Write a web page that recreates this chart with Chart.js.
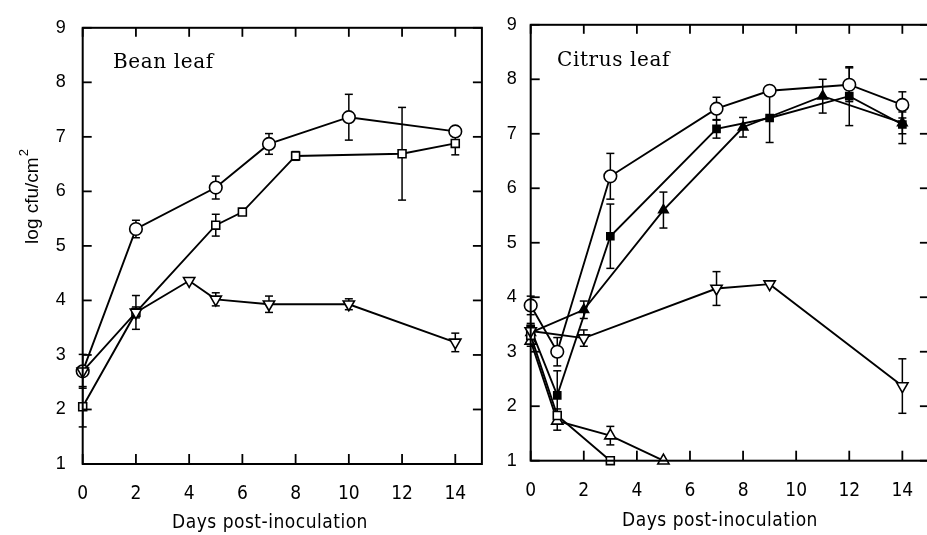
<!DOCTYPE html>
<html>
<head>
<meta charset="utf-8">
<script src="https://cdn.jsdelivr.net/npm/chart.js@4"></script>
<style>
  html, body { margin: 0; padding: 0; background: #fff; overflow: hidden; width: 927px; height: 535px; }
  .panel { position: absolute; top: 0; }
  #bean-wrap { left: 0; width: 490px; height: 535px; }
  #citrus-wrap { left: 487px; width: 450px; height: 535px; }
</style>
</head>
<body>
<div class="panel" id="bean-wrap"><canvas id="beanChart" width="490" height="535"></canvas></div>
<div class="panel" id="citrus-wrap"><canvas id="citrusChart" width="450" height="535"></canvas></div>
<script>
// ==========================================
// 1. 資料 (Data)
// ==========================================
const xTicks = [0, 2, 4, 6, 8, 10, 12, 14];
const yTicks = [1, 2, 3, 4, 5, 6, 7, 8, 9];

// Bean leaf
const beanCircleX = [0, 2, 5, 7, 10, 14];
const beanCircleY = [2.7, 5.31, 6.07, 6.87, 7.36, 7.1];
const beanCircleErr = [0.31, 0.16, 0.21, 0.19, 0.42, 0.05];

const beanSquareX = [0, 2, 5, 6, 8, 12, 14];
const beanSquareY = [2.05, 3.78, 5.38, 5.62, 6.65, 6.69, 6.88];
const beanSquareErr = [0.37, 0.31, 0.2, 0.04, 0.08, 0.85, 0.21];

const beanDownX = [0, 2, 4, 5, 7, 10, 14];
const beanDownY = [2.7, 3.78, 4.36, 4.02, 3.93, 3.93, 3.23];
const beanDownErr = [0, 0.1, 0, 0.12, 0.15, 0.1, 0.17];

// Citrus leaf
const citCircleX = [0, 1, 3, 7, 9, 12, 14];
const citCircleY = [3.85, 3.0, 6.22, 7.46, 7.79, 7.9, 7.53];
const citCircleErr = [0.17, 0.26, 0.42, 0.21, 0.07, 0.31, 0.24];

const citFillSqX = [0, 1, 3, 7, 9, 12, 14];
const citFillSqY = [3.42, 2.2, 5.12, 7.09, 7.29, 7.69, 7.17];
const citFillSqErr = [0.1, 0.45, 0.59, 0.17, 0.45, 0.54, 0.35];

const citFillTriX = [0, 2, 5, 8, 11, 14];
const citFillTriY = [3.35, 3.77, 5.6, 7.12, 7.69, 7.2];
const citFillTriErr = [0.1, 0.16, 0.33, 0.18, 0.31, 0.2];

const citOpenSqX = [0, 1, 3];
const citOpenSqY = [3.3, 1.83, 1.0];
const citOpenSqErr = [0.1, 0.12, 0];

const citOpenTriX = [0, 1, 3, 5];
const citOpenTriY = [3.2, 1.73, 1.46, 1.0];
const citOpenTriErr = [0.1, 0.17, 0.17, 0];

const citDownX = [0, 2, 7, 9, 14];
const citDownY = [3.38, 3.25, 4.16, 4.24, 2.37];
const citDownErr = [0.1, 0.15, 0.31, 0, 0.5];

// ==========================================
// 2. 樣式 (Styles)
// ==========================================
const tickFontX = { family: "'Liberation Sans Narrow', 'DejaVu Sans Condensed', 'Liberation Sans', sans-serif", size: 19 };
const tickFontY = { family: "'Liberation Sans', Arial, sans-serif", size: 18 };

function series(xs, ys, errs, marker, rotation, filled, radius) {
    return {
        data: xs.map((x, i) => ({ x: x, y: ys[i] })),
        err: errs,
        borderColor: '#000',
        borderWidth: 1.9,
        pointStyle: marker,
        pointRotation: rotation,
        pointRadius: radius,
        pointBorderWidth: 1.6,
        pointBorderColor: '#000',
        pointBackgroundColor: filled ? '#000' : '#fff',
        fill: false,
        tension: 0,
        clip: false
    };
}

function seg(ctx, x1, y1, x2, y2) {
    ctx.beginPath();
    ctx.moveTo(x1, y1);
    ctx.lineTo(x2, y2);
    ctx.stroke();
}

// 外框、內側刻度、誤差線、文字
const framePlugin = {
    id: 'frame',
    beforeDatasetsDraw(chart, args, opts) {
        const ctx = chart.ctx;
        const xs = chart.scales.x, ys = chart.scales.y;
        ctx.save();
        ctx.strokeStyle = '#000';
        ctx.lineWidth = 1.5;
        chart.data.datasets.forEach(ds => {
            ds.data.forEach((p, i) => {
                const e = ds.err[i];
                if (!e) return;
                const px = xs.getPixelForValue(p.x);
                const hi = ys.getPixelForValue(p.y + e);
                const lo = ys.getPixelForValue(p.y - e);
                seg(ctx, px, hi, px, lo);
                seg(ctx, px - 4, hi, px + 4, hi);
                seg(ctx, px - 4, lo, px + 4, lo);
            });
        });
        ctx.restore();
    },
    afterDraw(chart, args, opts) {
        const ctx = chart.ctx;
        const a = chart.chartArea;
        const xs = chart.scales.x, ys = chart.scales.y;
        ctx.save();
        ctx.strokeStyle = '#000';
        ctx.fillStyle = '#000';
        ctx.lineWidth = 2;
        ctx.strokeRect(a.left, a.top, a.right - a.left, a.bottom - a.top);

        // inner ticks on all four sides
        ctx.lineWidth = 1.8;
        xTicks.forEach(v => {
            const px = xs.getPixelForValue(v);
            seg(ctx, px, a.bottom, px, a.bottom - 10);
            seg(ctx, px, a.top, px, a.top + 9);
        });
        yTicks.forEach(v => {
            const py = ys.getPixelForValue(v);
            seg(ctx, a.left, py, a.left + 9, py);
            seg(ctx, a.right, py, a.right - 9, py);
        });

        // panel label
        ctx.font = "20px 'DejaVu Serif', serif";
        ctx.letterSpacing = '0.6px';
        ctx.textAlign = 'left';
        ctx.textBaseline = 'middle';
        ctx.fillText(opts.label, opts.labelX, opts.labelY);

        // x title
        ctx.font = "19px 'DejaVu Sans Condensed', 'Liberation Sans Narrow', 'DejaVu Sans', sans-serif";
        ctx.letterSpacing = '0.5px';
        ctx.textAlign = 'center';
        ctx.fillText(opts.xTitle, opts.xTitleX, opts.xTitleY);
        ctx.letterSpacing = '0px';

        // y title
        if (opts.yTitle) {
            ctx.translate(opts.yTitleX, opts.yTitleY);
            ctx.rotate(-Math.PI / 2);
            ctx.font = "19px 'Liberation Sans', Arial, sans-serif";
            const wMain = ctx.measureText(opts.yTitle).width;
            ctx.font = "13px 'Liberation Sans', Arial, sans-serif";
            const wSup = ctx.measureText(opts.yTitleSup).width;
            const start = -(wMain + wSup) / 2;
            ctx.textAlign = 'left';
            ctx.font = "19px 'Liberation Sans', Arial, sans-serif";
            ctx.fillText(opts.yTitle, start, 0);
            ctx.font = "13px 'Liberation Sans', Arial, sans-serif";
            ctx.fillText(opts.yTitleSup, start + wMain + 1, -9);
        }
        ctx.restore();
    }
};

function makeChart(canvasId, datasets, layout, texts) {
    return new Chart(document.getElementById(canvasId), {
        type: 'line',
        data: { datasets: datasets },
        options: {
            responsive: false,
            animation: false,
            layout: { padding: { left: 0, top: layout.top, right: layout.right, bottom: 0 } },
            scales: {
                x: {
                    type: 'linear', min: 0, max: 15,
                    afterBuildTicks: s => { s.ticks = xTicks.map(v => ({ value: v })); },
                    afterFit: s => { s.height = layout.xHeight; },
                    grid: { display: false, drawTicks: false },
                    border: { display: false },
                    ticks: { font: tickFontX, color: '#000', padding: 19, maxRotation: 0, autoSkip: false }
                },
                y: {
                    type: 'linear', min: 1, max: 9,
                    afterBuildTicks: s => { s.ticks = yTicks.map(v => ({ value: v })); },
                    afterFit: s => { s.width = layout.yWidth; },
                    grid: { display: false, drawTicks: false },
                    border: { display: false },
                    ticks: { font: tickFontY, color: '#000', padding: layout.yPad }
                }
            },
            plugins: {
                legend: { display: false },
                tooltip: { enabled: false },
                frame: texts
            }
        },
        plugins: [framePlugin]
    });
}

// ==========================================
// 3. 初始化 (Init)
// ==========================================
makeChart('beanChart', [
    series(beanDownX, beanDownY, beanDownErr, 'triangle', 180, false, 6.5),
    series(beanSquareX, beanSquareY, beanSquareErr, 'rect', 0, false, 5.6),
    series(beanCircleX, beanCircleY, beanCircleErr, 'circle', 0, false, 6.3)
], { top: 18.3, right: 4.8, xHeight: 71, yWidth: 82.7, yPad: 17 }, {
    label: 'Bean leaf', labelX: 113, labelY: 63,
    xTitle: 'Days post-inoculation', xTitleX: 270, xTitleY: 523,
    yTitle: 'log cfu/cm', yTitleSup: '2', yTitleX: 33, yTitleY: 197
});

makeChart('citrusChart', [
    series(citDownX, citDownY, citDownErr, 'triangle', 180, false, 6.5),
    series(citOpenSqX, citOpenSqY, citOpenSqErr, 'rect', 0, false, 5.6),
    series(citOpenTriX, citOpenTriY, citOpenTriErr, 'triangle', 0, false, 6.5),
    series(citCircleX, citCircleY, citCircleErr, 'circle', 0, false, 6.3),
    series(citFillTriX, citFillTriY, citFillTriErr, 'triangle', 0, true, 5.5),
    series(citFillSqX, citFillSqY, citFillSqErr, 'rect', 0, true, 5)
], { top: 15, right: 2.4, xHeight: 74.3, yWidth: 43.7, yPad: 14 }, {
    label: 'Citrus leaf', labelX: 70, labelY: 61,
    xTitle: 'Days post-inoculation', xTitleX: 233, xTitleY: 521
});
</script>
</body>
</html>
